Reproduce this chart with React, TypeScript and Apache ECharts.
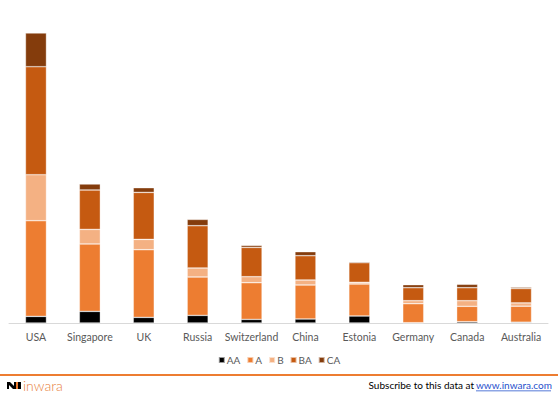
import React, { useEffect, useRef } from "react";
import * as echarts from "echarts";

const categories = ["USA", "Singapore", "UK", "Russia", "Switzerland", "China", "Estonia", "Germany", "Canada", "Australia"];
const seriesNames = ["AA", "A", "B", "BA", "CA"];
const valuesAA = [6.6, 11.6, 5.6, 7.6, 3.6, 4, 7, 0.3, 1.3, 0.8];
const valuesA = [95.7, 67.4, 67.7, 38.4, 36.7, 34, 32, 19, 15.4, 16];
const valuesB = [46, 14.6, 10.3, 9, 6, 5, 1.7, 3, 5.6, 3.3];
const valuesBA = [108, 39.4, 47, 42.3, 29.3, 24.3, 19.6, 13, 13, 14.4];
const valuesCA = [33.7, 6, 4.7, 6.3, 2, 4, 1, 3, 3.4, 1.3];
const colors = ["#000000", "#ED7D31", "#F4B183", "#C55A11", "#843C0C"];

export default function App() {
  const ref = useRef<HTMLDivElement>(null);
  useEffect(() => {
    if (!ref.current) return;
    const chart = echarts.init(ref.current, undefined, { renderer: "svg" });
    const all = [valuesAA, valuesA, valuesB, valuesBA, valuesCA];
    const totals = categories.map((_, i) => all.reduce((s, arr) => s + arr[i], 0));
    const maxTotal = Math.max(...totals);
    const font = "Lato, sans-serif";
    chart.setOption({
      animation: false,
      color: colors,
      grid: { left: 9, right: 10, top: 33, bottom: 71, containLabel: false },
      legend: {
        data: seriesNames,
        top: 350,
        left: "center",
        icon: "rect",
        itemWidth: 6,
        itemHeight: 6,
        itemGap: 6,
        textStyle: { fontSize: 10, color: "#595959", fontFamily: font, padding: [0, 0, 0, -3] },
      },
      xAxis: {
        type: "category",
        data: categories,
        axisLine: { lineStyle: { color: "#D9D9D9", width: 1 } },
        axisTick: { show: false },
        axisLabel: { color: "#595959", fontSize: 10.5, fontFamily: font, margin: 8, interval: 0 },
      },
      yAxis: {
        type: "value",
        min: 0,
        max: maxTotal,
        show: false,
        splitLine: { show: false },
      },
      series: seriesNames.map((name, k) => ({
        name,
        type: "bar",
        stack: "total",
        data: all[k],
        barWidth: 21,
        itemStyle: { color: colors[k], borderColor: "rgba(255,255,255,0.6)", borderWidth: 0.6 },
      })),
      graphic: [
        { type: "rect", shape: { x: 0, y: 374, width: 558, height: 2 }, style: { fill: "#ED7D31" } },
        {
          type: "polygon",
          shape: { points: [[7, 382], [10, 382], [14, 386], [14, 382], [16, 382], [16, 389], [13, 389], [9, 385], [9, 389], [7, 389]] },
          style: { fill: "#000" },
        },
        {
          type: "polygon",
          shape: { points: [[16, 382], [18, 382], [18, 389], [16, 389]] },
          style: { fill: "#ED7D31" },
        },
        {
          type: "polygon",
          shape: { points: [[18, 382], [21, 382], [21, 389], [18, 389]] },
          style: { fill: "#000" },
        },
        {
          type: "text",
          x: 23,
          y: 385,
          style: { text: "inwara", fill: "#E8803A", fontSize: 14, fontFamily: font, fontWeight: 300, verticalAlign: "middle", align: "left" },
        },
        {
          type: "text",
          x: 474,
          y: 385,
          style: { text: "Subscribe to this data at", fill: "#000", fontSize: 10, fontFamily: font, verticalAlign: "middle", align: "right" },
        },
        {
          type: "text",
          x: 476,
          y: 385,
          style: { text: "www.inwara.com", fill: "#1F4FCC", fontSize: 10, fontFamily: font, verticalAlign: "middle", align: "left" },
        },
        { type: "rect", shape: { x: 476, y: 390.5, width: 75, height: 0.8 }, style: { fill: "#1F4FCC" } },
      ],
    });
    return () => chart.dispose();
  }, []);
  return (
    <div
      ref={ref}
      style={{ position: "fixed", left: 0, top: 0, width: 558, height: 394, background: "#fff" }}
    />
  );
}
